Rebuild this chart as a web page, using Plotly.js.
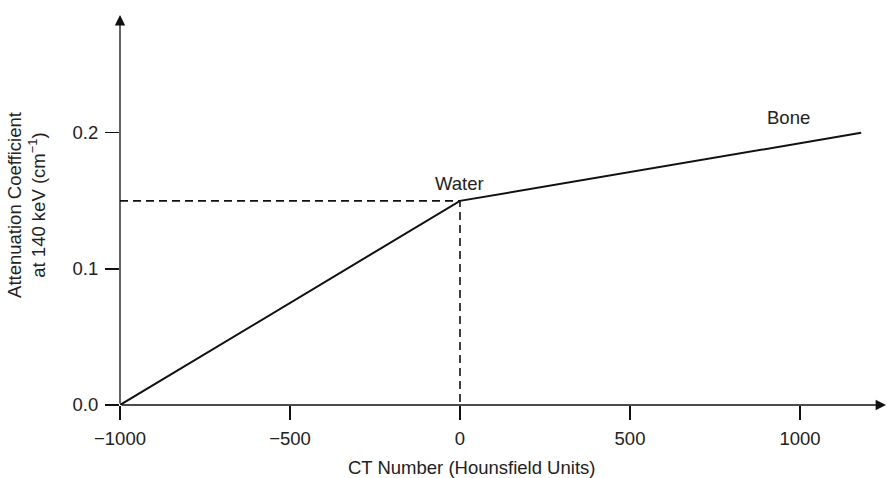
<!DOCTYPE html>
<html>
<head>
<meta charset="utf-8">
<script src="https://cdn.plot.ly/plotly-3.0.1.min.js"></script>
<style>
  html, body { margin: 0; padding: 0; background: #fff; }
  #chart { width: 887px; height: 478px; }
</style>
</head>
<body>
<div id="chart"></div>
<script>
// Attenuation coefficient at 140 keV versus CT number
const ctNumber = [-1000, 0, 1180];        // air, water, bone (HU)
const muValues = [0, 0.15, 0.2];          // cm^-1
const pointNames = ['', 'Water', 'Bone'];

const xTickVals = [-1000, -500, 0, 500, 1000];
const xTickText = ['\u22121000', '\u2212500', '0', '500', '1000'];
const yTickVals = [0, 0.1, 0.2];
const yTickText = ['0.0', '0.1', '0.2'];

const xMin = -1000, xMax = 1253;
const yMin = 0, yMax = 0.2866;

const ink = '#111';
const font = { family: '"Liberation Sans", Arial, Helvetica, sans-serif', size: 18.5, color: '#222' };

const traces = [
  {
    // dashed guides from the water point to both axes
    x: [xMin, ctNumber[1], ctNumber[1]],
    y: [muValues[1], muValues[1], yMin],
    mode: 'lines',
    line: { color: ink, width: 1.6, dash: '8px,5px' },
    hoverinfo: 'skip',
    cliponaxis: false
  },
  {
    x: ctNumber,
    y: muValues,
    mode: 'lines',
    line: { color: ink, width: 2 },
    cliponaxis: false
  }
];

const annotations = [
  // x axis with arrow
  { x: xMax, y: 0, ax: xMin, ay: 0, xref: 'x', yref: 'y', axref: 'x', ayref: 'y',
    text: '', showarrow: true, arrowhead: 2, arrowsize: 1.6, arrowwidth: 1.3, arrowcolor: ink },
  // y axis with arrow
  { x: xMin, y: yMax, ax: xMin, ay: 0, xref: 'x', yref: 'y', axref: 'x', ayref: 'y',
    text: '', showarrow: true, arrowhead: 2, arrowsize: 1.6, arrowwidth: 1.3, arrowcolor: ink },
  // point labels
  { x: ctNumber[1], y: muValues[1], xref: 'x', yref: 'y', text: pointNames[1],
    showarrow: false, yanchor: 'bottom', yshift: 5, font: font },
  { x: 965, y: 0.211, xref: 'x', yref: 'y', text: pointNames[2],
    showarrow: false, font: font },
  // axis titles
  { x: 0.4595, y: -0.1615, xref: 'paper', yref: 'paper', xanchor: 'center', yanchor: 'middle',
    text: 'CT Number (Hounsfield Units)', showarrow: false, font: font },
  { x: -0.1214, y: 0.513, xref: 'paper', yref: 'paper', xanchor: 'center', yanchor: 'middle',
    textangle: -90, text: 'Attenuation Coefficient<br>at 140 keV (cm<sup>\u22121</sup>)',
    showarrow: false, font: font }
];

const layout = {
  width: 887,
  height: 478,
  margin: { l: 120, r: 1, t: 15, b: 73 },
  paper_bgcolor: '#fff',
  plot_bgcolor: '#fff',
  showlegend: false,
  font: font,
  xaxis: {
    range: [xMin, xMax],
    tickvals: xTickVals,
    ticktext: xTickText,
    ticks: 'outside', ticklen: 14, tickwidth: 1.3, tickcolor: ink,
    ticklabelstandoff: 3,
    showgrid: false, zeroline: false, showline: false,
    tickfont: font, fixedrange: true
  },
  yaxis: {
    range: [yMin, yMax],
    tickvals: yTickVals,
    ticktext: yTickText,
    ticks: 'outside', ticklen: 14, tickwidth: 1.3, tickcolor: ink,
    ticklabelstandoff: 3,
    showgrid: false, zeroline: false, showline: false,
    tickfont: font, fixedrange: true
  },
  annotations: annotations
};

Plotly.newPlot('chart', traces, layout, { displayModeBar: false, staticPlot: true });
</script>
</body>
</html>
